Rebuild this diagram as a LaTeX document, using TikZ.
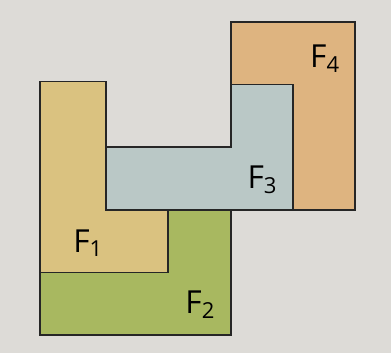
\documentclass[tikz,border=0pt]{standalone}
\usepackage{fontspec}
\setsansfont{Open Sans}
\usepackage{tikz}
\definecolor{paper}{RGB}{221,219,215}
\definecolor{fone}{RGB}{218,194,128}
\definecolor{ftwo}{RGB}{168,184,96}
\definecolor{fthree}{RGB}{186,200,198}
\definecolor{ffour}{RGB}{222,180,128}
\newcommand{\flabel}[1]{F\textsubscript{#1}}
\tikzset{
    piece/.style={draw=black!85, line width=0.8pt, line join=miter},
    every node/.style={font=\sffamily\Large, inner sep=0mm}
}

\begin{document}
\begin{tikzpicture}
    \fill[paper] (-0.64cm, -0.29cm) rectangle (5.6cm, 5.35cm);
    \useasboundingbox (-0.64cm, -0.29cm) rectangle (5.6cm, 5.35cm);

    \filldraw[piece, fill=ftwo] (0,0) -- (0,1) -- (2.04,1) -- (2.04,2) -- (3.05,2) -- (3.05,0) -- cycle;
    \filldraw[piece, fill=fone] (0,1) -- (0,4.05) -- (1.05,4.05) -- (1.05,2) -- (2.04,2) -- (2.04,1) -- cycle;
    \filldraw[piece, fill=fthree] (1.05,2) -- (1.05,3) -- (3.05,3) -- (3.05,4) -- (4.04,4) -- (4.04,2) -- cycle;
    \filldraw[piece, fill=ffour] (3.05,4) -- (3.05,5) -- (5.03,5) -- (5.03,2) -- (4.04,2) -- (4.04,4) -- cycle;

    \node (f1) at (0.77cm, 1.47cm) {\flabel{1}};
    \node (f2) at (2.56cm, 0.48cm) {\flabel{2}};
    \node (f3) at (3.55cm, 2.48cm) {\flabel{3}};
    \node (f4) at (4.55cm, 4.42cm) {\flabel{4}};
\end{tikzpicture}
\end{document}
